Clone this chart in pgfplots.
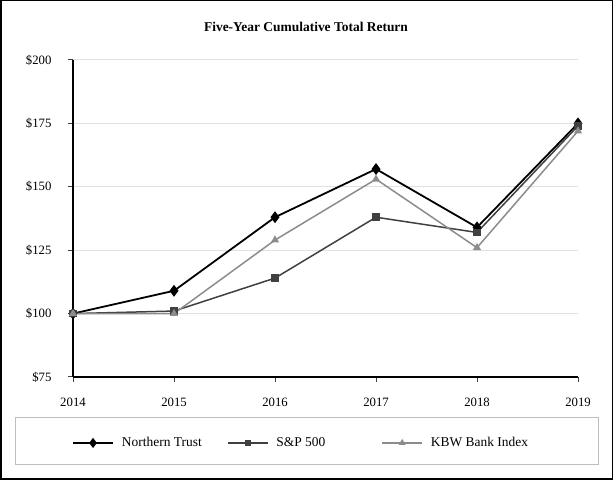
\documentclass[border=0pt]{standalone}
\usepackage{pgfplots}
\pgfplotsset{compat=1.18}
\usepackage{fontspec}
\setmainfont{Liberation Serif}
\definecolor{spgray}{RGB}{64,64,64}
\definecolor{kbwgray}{RGB}{140,140,140}
\definecolor{gridgray}{RGB}{225,225,225}
\definecolor{boxgray}{RGB}{190,190,190}
\begin{document}
\begin{tikzpicture}[x=1bp,y=1bp]
\useasboundingbox (0,0) rectangle (613,480);
\draw[line width=1.5bp] (0.75,0.75) rectangle (612.25,479.25);
\draw[color=boxgray, line width=1bp] (15,15) rectangle (598,62);
\node[font=\bfseries\fontsize{13.5}{15}\selectfont] at (306,453) {Five-Year Cumulative Total Return};
\begin{axis}[
  at={(73bp,103bp)}, anchor=south west,
  scale only axis, width=505bp, height=317bp,
  xmin=2014, xmax=2019, ymin=75, ymax=200,
  xtick={2014,2015,2016,2017,2018,2019},
  ytick={75,100,125,150,175,200},
  yticklabel={\$\pgfmathprintnumber{\tick}},
  /pgf/number format/assume math mode=true,
  /pgf/number format/1000 sep={},
  axis x line*=bottom, axis y line*=left,
  axis line style={-, line width=1.5bp, black},
  ymajorgrids, grid style={gridgray, line width=1bp},
  tick align=outside, major tick length=5bp,
  tick style={spgray, line width=1bp},
  tick label style={font=\fontsize{12.8}{14}\selectfont},
  yticklabel style={xshift=-13bp},
  xticklabel style={yshift=-13bp},
  clip=false,
  legend columns=3,
  legend style={draw=none, fill=none, at={(-0.008,-0.208)}, anchor=west,
    font=\fontsize{13.5}{15}\selectfont,
    /tikz/every even column/.append style={column sep=0bp}},
  legend image code/.code={\draw[mark repeat=2,mark phase=2,mark options={scale=0.8}] plot coordinates {(0bp,0bp) (20bp,0bp) (40bp,0bp)};},
]
\addplot[black, line width=1.8bp, mark=diamond*, mark size=4.5bp, mark options={solid}] coordinates {
(2014,100) (2015,109) (2016,138) (2017,157) (2018,134) (2019,175)};
\addlegendentry{\makebox[109bp][l]{\hspace{6bp}Northern Trust}}
\addplot[spgray, line width=1.5bp, mark=square*, mark size=3bp] coordinates {
(2014,100) (2015,101) (2016,114) (2017,138) (2018,132) (2019,174)};
\addlegendentry{\makebox[109bp][l]{\hspace{6bp}S\&P 500}}
\addplot[kbwgray, line width=1.5bp, mark=triangle*, mark size=3.2bp] coordinates {
(2014,100) (2015,100) (2016,129) (2017,153) (2018,126) (2019,172)};
\addlegendentry{\hspace{6bp}KBW Bank Index}
\end{axis}
\end{tikzpicture}
\end{document}
